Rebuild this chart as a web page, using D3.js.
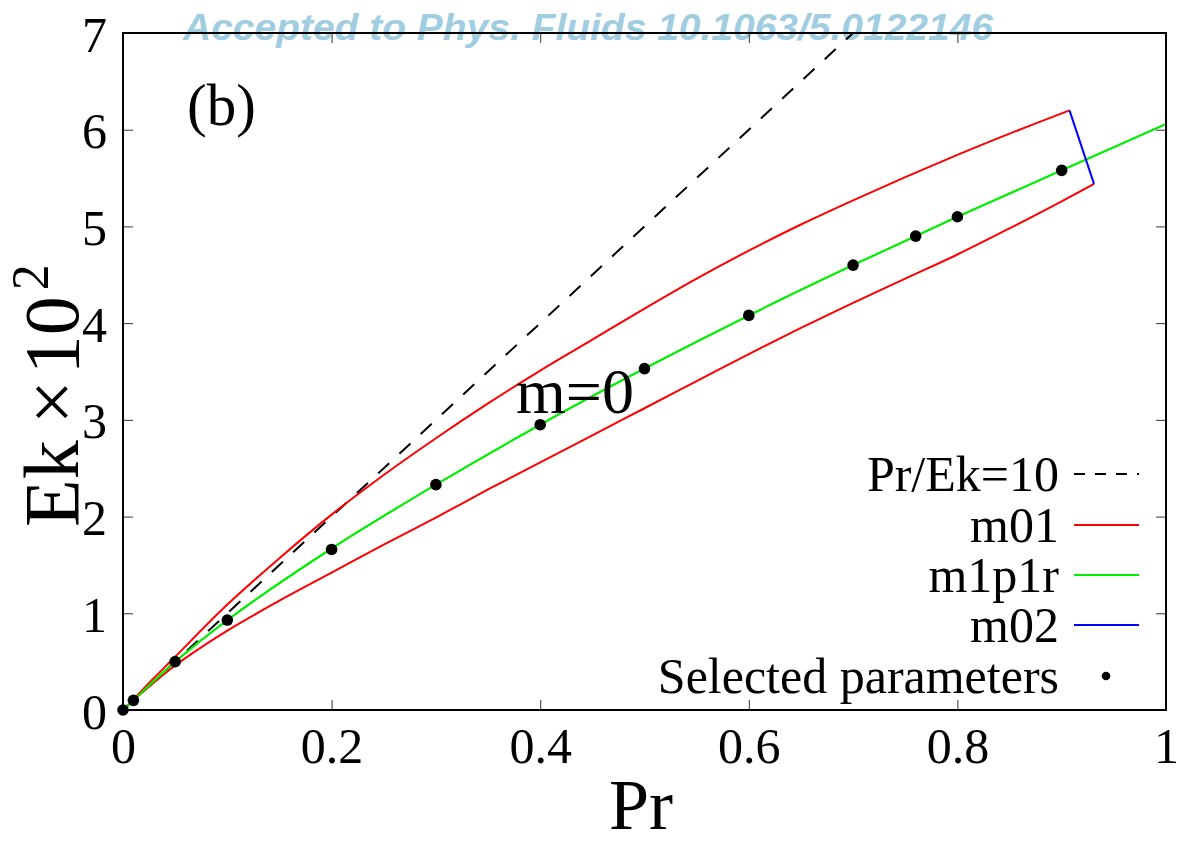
<!DOCTYPE html>
<html>
<head>
<meta charset="utf-8">
<script src="https://cdn.jsdelivr.net/npm/d3@7"></script>
<style>
  body { margin: 0; background: #fff; }
  text { font-family: "Liberation Serif", "DejaVu Serif", serif; fill: #000; }
</style>
</head>
<body>
<div id="container"></div>
<script>
// values (Ek in units of 1e-2)
var selPr = [0, 0.01, 0.05, 0.1, 0.2, 0.3, 0.4, 0.5, 0.6, 0.7, 0.76, 0.8, 0.9];
var selEk = [0, 0.10, 0.50, 0.93, 1.66, 2.33, 2.95, 3.53, 4.08, 4.60, 4.90, 5.10, 5.58];

var m1p1rPr = [0, 0.01, 0.05, 0.1, 0.2, 0.3, 0.4, 0.5, 0.6, 0.7, 0.8, 0.9, 1.0];
var m1p1rEk = [0, 0.10, 0.50, 0.93, 1.67, 2.33, 2.95, 3.53, 4.08, 4.60, 5.10, 5.58, 6.06];

var m01UpPr = [0, 0.01, 0.025, 0.05, 0.1, 0.15, 0.2, 0.25, 0.3, 0.35, 0.4, 0.45, 0.5, 0.55, 0.6, 0.65, 0.7, 0.75, 0.8, 0.85, 0.9075];
var m01UpEk = [0, 0.11, 0.28, 0.55, 1.09, 1.57, 2.02, 2.43, 2.81, 3.17, 3.51, 3.83, 4.15, 4.46, 4.75, 5.02, 5.27, 5.51, 5.74, 5.96, 6.20];

var m01LoPr = [0, 0.01, 0.025, 0.05, 0.1, 0.15, 0.2, 0.25, 0.3, 0.35, 0.4, 0.45, 0.5, 0.55, 0.6, 0.65, 0.7, 0.75, 0.8, 0.85, 0.9, 0.931];
var m01LoEk = [0, 0.10, 0.24, 0.46, 0.82, 1.13, 1.42, 1.71, 1.99, 2.28, 2.56, 2.84, 3.12, 3.40, 3.68, 3.95, 4.21, 4.46, 4.71, 4.98, 5.26, 5.44];

var m02Pr = [0.9075, 0.931];
var m02Ek = [6.20, 5.44];

// Pr/Ek = 10  ->  Ek*1e2 = 10*Pr
var ratioPr = [0, 0.7];
var ratioEk = [0, 7];

var xTicks = [0, 0.2, 0.4, 0.6, 0.8, 1];
var xTickLabels = ["0", "0.2", "0.4", "0.6", "0.8", "1"];
var yTicks = [0, 1, 2, 3, 4, 5, 6, 7];

var legendNames = ["Pr/Ek=10", "m01", "m1p1r", "m02", "Selected parameters"];

var margin = {top: 33, right: 15, bottom: 134, left: 123},
    width = 1181 - margin.left - margin.right,
    height = 844 - margin.top - margin.bottom;

function zip(a, b) {
    return a.map(function(v, i) { return [v, b[i]]; });
}

function drawChart() {
    var root = d3.select("#container")
      .append("svg")
        .attr("width", 1181)
        .attr("height", 844);

    // watermark
    root.append("text")
        .attr("x", 183)
        .attr("y", 40)
        .attr("textLength", 810)
        .attr("lengthAdjust", "spacingAndGlyphs")
        .style("font-family", "'Liberation Sans', Arial, sans-serif")
        .style("font-weight", "bold")
        .style("font-style", "italic")
        .style("font-size", "37px")
        .style("fill", "#a1cde1")
        .text("Accepted to Phys. Fluids 10.1063/5.0122146");

    var svg = root.append("g")
        .attr("transform", "translate(" + margin.left + "," + margin.top + ")");

    var x = d3.scaleLinear()
        .domain([0, 1])
        .range([0, width]);

    var y = d3.scaleLinear()
        .domain([0, 7])
        .range([height, 0]);

    // inward ticks on all four sides
    var tickStyle = function(g) {
        g.select(".domain").remove();
        g.selectAll(".tick line").attr("stroke", "#333").attr("stroke-width", 1);
    };

    svg.append("g")
        .attr("transform", "translate(0," + height + ")")
        .call(d3.axisBottom(x).tickValues(xTicks).tickSizeInner(-10).tickSizeOuter(0)
            .tickFormat(function(d, i) { return xTickLabels[i]; }))
        .call(tickStyle)
        .call(function(g) {
            g.selectAll(".tick text")
                .attr("y", 53).attr("dy", null)
                .style("font-size", "50px")
                .style("font-family", "'Liberation Serif', serif")
                .attr("fill", "#000");
        });

    svg.append("g")
        .call(d3.axisTop(x).tickValues(xTicks.slice(1, -1)).tickSizeInner(-10).tickSizeOuter(0).tickFormat(""))
        .call(tickStyle);

    svg.append("g")
        .call(d3.axisLeft(y).tickValues(yTicks).tickSizeInner(-10).tickSizeOuter(0)
            .tickFormat(d3.format("d")))
        .call(tickStyle)
        .call(function(g) {
            g.selectAll(".tick text")
                .attr("x", -16).attr("dy", 18)
                .style("font-size", "50px")
                .style("font-family", "'Liberation Serif', serif")
                .attr("fill", "#000");
        });

    svg.append("g")
        .attr("transform", "translate(" + width + ",0)")
        .call(d3.axisRight(y).tickValues(yTicks.slice(1, -1)).tickSizeInner(-10).tickSizeOuter(0).tickFormat(""))
        .call(tickStyle);

    var line = d3.line()
        .x(function(d) { return x(d[0]); })
        .y(function(d) { return y(d[1]); });

    var smooth = d3.line()
        .curve(d3.curveCatmullRom.alpha(0.5))
        .x(function(d) { return x(d[0]); })
        .y(function(d) { return y(d[1]); });

    svg.append("path")
        .datum(zip(ratioPr, ratioEk))
        .attr("d", line)
        .attr("fill", "none")
        .attr("stroke", "#000")
        .attr("stroke-width", 2)
        .attr("stroke-dasharray", "15,14");

    [zip(m01UpPr, m01UpEk), zip(m01LoPr, m01LoEk)].forEach(function(d) {
        svg.append("path")
            .datum(d)
            .attr("d", smooth)
            .attr("fill", "none")
            .attr("stroke", "#ff0000")
            .attr("stroke-width", 2);
    });

    svg.append("path")
        .datum(zip(m1p1rPr, m1p1rEk))
        .attr("d", smooth)
        .attr("fill", "none")
        .attr("stroke", "#00ee00")
        .attr("stroke-width", 2.2);

    svg.append("path")
        .datum(zip(m02Pr, m02Ek))
        .attr("d", line)
        .attr("fill", "none")
        .attr("stroke", "#0000ff")
        .attr("stroke-width", 2);

    svg.selectAll("circle.dot")
        .data(zip(selPr, selEk))
        .enter()
        .append("circle")
        .attr("class", "dot")
        .attr("cx", function(d) { return x(d[0]); })
        .attr("cy", function(d) { return y(d[1]); })
        .attr("r", 5.8)
        .attr("fill", "#000");

    // frame
    svg.append("rect")
        .attr("width", width)
        .attr("height", height)
        .attr("fill", "none")
        .attr("stroke", "#000")
        .attr("stroke-width", 2);

    // annotations
    svg.append("text")
        .attr("x", 187 - margin.left)
        .attr("y", 125 - margin.top)
        .style("font-size", "59px")
        .text("(b)");

    svg.append("text")
        .attr("x", 516 - margin.left)
        .attr("y", 413 - margin.top)
        .style("font-size", "64px")
        .text("m=0");

    // legend
    var rowY = [474, 525, 575, 625, 676];
    var legend = svg.append("g")
        .attr("transform", "translate(" + (-margin.left) + "," + (-margin.top) + ")");

    legendNames.forEach(function(name, i) {
        legend.append("text")
            .attr("x", 1059)
            .attr("y", rowY[i] + 17)
            .attr("text-anchor", "end")
            .style("font-size", "50px")
            .text(name);
    });

    var legendLines = [
        {stroke: "#000", dash: "11,10"},
        {stroke: "#ff0000", dash: null},
        {stroke: "#00ee00", dash: null},
        {stroke: "#0000ff", dash: null}
    ];
    legendLines.forEach(function(s, i) {
        legend.append("line")
            .attr("x1", 1074).attr("x2", 1139)
            .attr("y1", rowY[i]).attr("y2", rowY[i])
            .attr("stroke", s.stroke)
            .attr("stroke-width", 2)
            .attr("stroke-dasharray", s.dash);
    });
    legend.append("circle")
        .attr("cx", 1106)
        .attr("cy", rowY[4])
        .attr("r", 4.3)
        .attr("fill", "#000");

    // axis titles
    root.append("text")
        .attr("x", 641)
        .attr("y", 829)
        .attr("text-anchor", "middle")
        .style("font-size", "72px")
        .text("Pr");

    var yl = root.append("text")
        .attr("transform", "translate(78,527) rotate(-90)")
        .style("font-size", "78px");
    yl.append("tspan").text("Ek");
    yl.append("tspan").attr("dx", 16).text("\u00d7");
    yl.append("tspan").attr("dx", 6).text("10");
    yl.append("tspan")
        .attr("dx", 6)
        .attr("dy", -30)
        .style("font-size", "52px")
        .text("2");
}

drawChart();
</script>
</body>
</html>
